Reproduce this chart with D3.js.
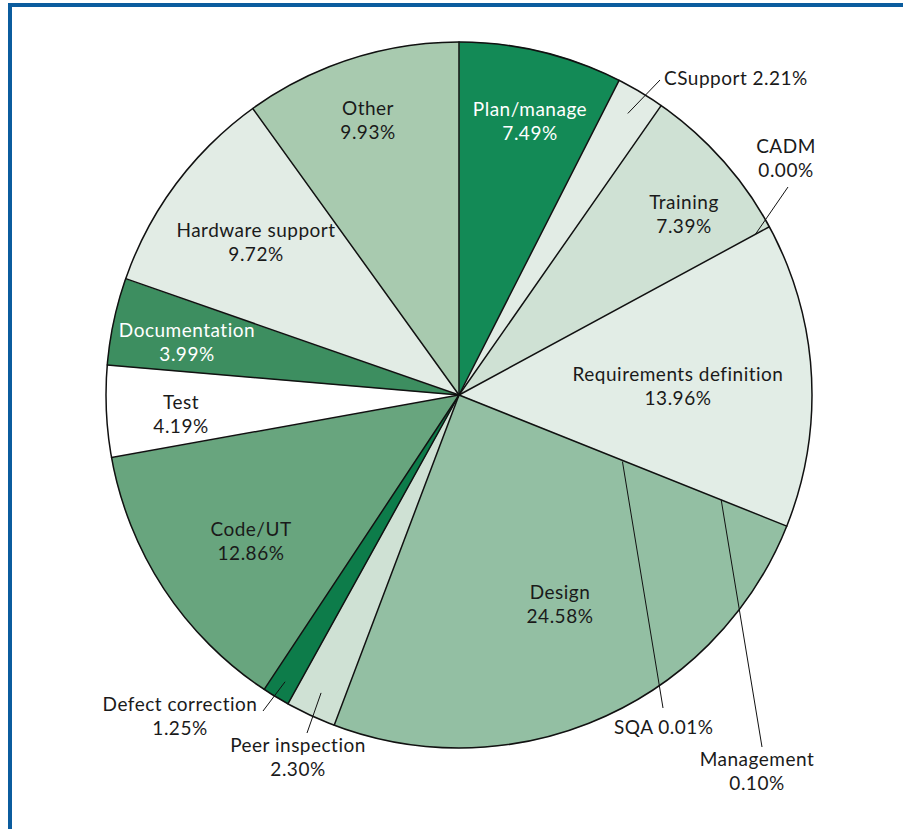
<!DOCTYPE html>
<html>
<head>
<meta charset="utf-8">
<script src="https://cdn.jsdelivr.net/npm/d3@7"></script>
<style>
  html, body { margin: 0; padding: 0; background: #fff; }
  svg { display: block; }
  text { font-family: Lato, "Open Sans", sans-serif; font-size: 19px; letter-spacing: 0.5px; }
</style>
</head>
<body>
<svg id="chart" width="903" height="829"></svg>
<script>
// Effort distribution by activity, clockwise from 12 o'clock
const categories = [
  "Plan/manage", "CSupport", "Training", "CADM", "Requirements definition",
  "Management", "SQA", "Design", "Peer inspection", "Defect correction",
  "Code/UT", "Test", "Documentation", "Hardware support", "Other"
];
const percents = [7.49, 2.21, 7.39, 0.00, 13.96, 0.10, 0.01, 24.58, 2.30, 1.25, 12.86, 4.19, 3.99, 9.72, 9.93];
const sliceColors = [
  "#138a56", "#e2ece5", "#cfe1d4", "#cfe1d4", "#e2ede6",
  "#93bfa3", "#93bfa3", "#93bfa3", "#cfe1d4", "#0d7c4a",
  "#68a57e", "#ffffff", "#3d8e60", "#e2ece5", "#a8caaf"
];
const labelText = categories.map((c, i) => c + (i === 1 || i === 6 ? " " : "\n") + percents[i].toFixed(2) + "%");

// Label placement: anchor point, text colour/alignment, and leader line
// (start radius as a fraction of the pie radius, end point)
const labelLayout = {
  "Plan/manage":             { x: 530, y: 121, fill: "#fff" },
  "CSupport":                { x: 664, y: 78, anchor: "start", lead: { r: 0.93, to: [660, 80] } },
  "Training":                { x: 684, y: 214 },
  "CADM":                    { x: 786, y: 158, lead: { r: 0.955, to: [788, 187] } },
  "Requirements definition": { x: 678, y: 386 },
  "Management":              { x: 757, y: 771, lead: { r: 0.80, to: [762, 747], angleAt: "start" } },
  "SQA":                     { x: 614, y: 727, anchor: "start", lead: { r: 0.50, to: [663, 708], angleAt: "start" } },
  "Design":                  { x: 560, y: 604 },
  "Peer inspection":         { x: 298, y: 757, lead: { r: 0.93, to: [307, 733] } },
  "Defect correction":       { x: 180, y: 716, lead: { r: 0.95, to: [263, 711] } },
  "Code/UT":                 { x: 251, y: 541 },
  "Test":                    { x: 181, y: 414 },
  "Documentation":           { x: 187, y: 342, fill: "#fff" },
  "Hardware support":        { x: 256, y: 242 },
  "Other":                   { x: 368, y: 120 }
};

const svg = d3.select("#chart");

// Blue frame along the top and left edges
svg.append("path")
  .attr("d", d3.line()([[10, 829], [10, 5], [903, 5]]))
  .attr("fill", "none")
  .attr("stroke", "#0b5c9e")
  .attr("stroke-width", 4);

const cx = 459, cy = 395, radius = 353;
const g = svg.append("g").attr("transform", `translate(${cx},${cy})`);

const pie = d3.pie().sort(null).value(d => d).startAngle(0).endAngle(2 * Math.PI);
const arcs = pie(percents);
const arc = d3.arc().innerRadius(0).outerRadius(radius);

// Slice fills
g.selectAll("path.slice")
  .data(arcs)
  .join("path")
  .attr("class", "slice")
  .attr("d", arc)
  .attr("fill", (d, i) => sliceColors[i])
  .attr("stroke", (d, i) => sliceColors[i])
  .attr("stroke-width", 0.5);

// Slice boundaries: one radial line per distinct start angle
const edgeAngles = [];
arcs.forEach(d => {
  if (!edgeAngles.some(a => Math.abs(a - d.startAngle) < 0.01)) edgeAngles.push(d.startAngle);
});
g.selectAll("line.edge")
  .data(edgeAngles)
  .join("line")
  .attr("class", "edge")
  .attr("x1", 0).attr("y1", 0)
  .attr("x2", a => radius * Math.sin(a))
  .attr("y2", a => -radius * Math.cos(a))
  .attr("stroke", "#111")
  .attr("stroke-width", 1.5)
  .attr("stroke-linecap", "round");
g.append("circle")
  .attr("r", radius)
  .attr("fill", "none")
  .attr("stroke", "#111")
  .attr("stroke-width", 1.5);

// Leader lines for the narrow slices
arcs.forEach((d, i) => {
  const lay = labelLayout[categories[i]];
  if (!lay.lead) return;
  const a = lay.lead.angleAt === "start" ? d.startAngle : (d.startAngle + d.endAngle) / 2;
  const r = radius * lay.lead.r;
  g.append("line")
    .attr("x1", r * Math.sin(a)).attr("y1", -r * Math.cos(a))
    .attr("x2", lay.lead.to[0] - cx).attr("y2", lay.lead.to[1] - cy)
    .attr("stroke", "#111")
    .attr("stroke-width", 1);
});

// Slice labels
categories.forEach((c, i) => {
  const lay = labelLayout[c];
  const lines = labelText[i].split("\n");
  const t = svg.append("text")
    .attr("text-anchor", lay.anchor || "middle")
    .attr("fill", lay.fill || "#1a1a1a");
  const lh = 24;
  const top = lay.y - (lines.length - 1) * lh / 2;
  lines.forEach((ln, k) => {
    t.append("tspan")
      .attr("x", lay.x)
      .attr("y", top + k * lh)
      .attr("dy", "0.35em")
      .text(ln);
  });
});
</script>
</body>
</html>
